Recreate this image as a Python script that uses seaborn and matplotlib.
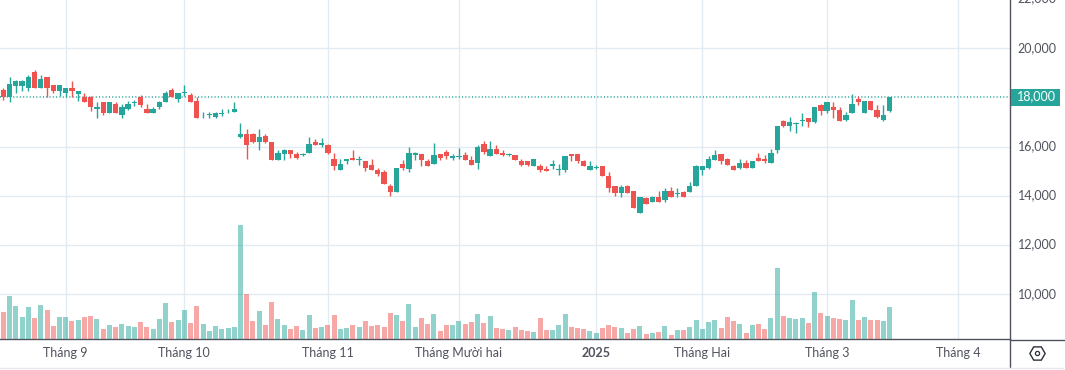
import pandas as pd
import seaborn as sns
from matplotlib import pyplot as plt
from matplotlib.lines import Line2D
from matplotlib.patches import Rectangle
from matplotlib.transforms import ScaledTranslation

# gia mo / cao / thap / dong, doc tu bieu do
opens = [18300, 18000, 18450, 18450, 18400, 19050, 18400, 18850, 18500, 18250,
         18200, 18400, 18150, 18000, 18000, 17550, 17800, 17350, 17750, 17300,
         17550, 17780, 18000, 17550, 17350, 17600, 17800, 18300, 17950, 18180,
         18100, 17850, 17150, 17300, 17200, 17330, 17430, 17400, 16400, 16500,
         16500, 16200, 16450, 16200, 15450, 15700, 15850, 15700, 15650, 15750,
         16200, 16050, 16050, 15500, 15050, 15400, 15550, 15450, 15400, 15250,
         15050, 14950, 14400, 14150, 15300, 15100, 15650, 15700, 15400, 15300,
         15700, 15800, 15550, 15570, 15650, 15450, 15350, 16100, 15600, 15900,
         15750, 15670, 15650, 15400, 15400, 15200, 15200, 15100, 15200, 15070,
         15050, 15700, 15700, 15400, 15050, 15130, 15200, 14800, 14400, 14100,
         14400, 14200, 13300, 13900, 13750, 13950, 13850, 14200, 14080, 14150,
         14150, 14400, 15050, 15150, 15450, 15700, 15500, 15200, 15150, 15350,
         15150, 15550, 15500, 15350, 15850, 17050, 16850, 16930, 17050, 17150,
         17000, 17700, 17450, 17600, 17500, 17100, 17350, 17950, 17350, 17850,
         17500, 17100, 17450]
highs = [18400, 18850, 18700, 18700, 18900, 19100, 18900, 18850, 18500, 18500,
         18400, 18650, 18250, 18200, 18050, 17800, 17800, 17800, 17800, 17750,
         17850, 17900, 18100, 17750, 17600, 17850, 18250, 18400, 18200, 18500,
         18200, 18000, 17400, 17400, 17400, 17550, 17550, 17800, 16950, 16700,
         16550, 16700, 16500, 16200, 15850, 15900, 15850, 15800, 15750, 16400,
         16300, 16350, 16100, 15750, 15500, 15500, 15850, 15600, 15400, 15500,
         15150, 15050, 14500, 15150, 15450, 16000, 15800, 15700, 15500, 16150,
         15700, 15850, 15700, 15950, 15800, 15600, 16050, 16250, 16250, 16050,
         15850, 15750, 15650, 15500, 15400, 15500, 15300, 15200, 15450, 15300,
         15600, 15700, 15700, 15450, 15400, 15250, 15200, 14950, 14400, 14450,
         14450, 14200, 13950, 13950, 14000, 14200, 14300, 14350, 14300, 14200,
         14550, 15250, 15200, 15600, 15850, 15700, 15550, 15250, 15500, 15450,
         15400, 15750, 15650, 15900, 16850, 17100, 17200, 17000, 17350, 17150,
         17600, 17750, 17800, 17800, 17600, 17400, 18150, 18050, 17850, 17850,
         17700, 17700, 18000]
lows = [17900, 17800, 18200, 18250, 18250, 18400, 18400, 18000, 18200, 18050,
        18000, 18000, 17850, 17800, 17450, 17150, 17300, 17350, 17350, 17150,
        17500, 17650, 17600, 17350, 17350, 17550, 17800, 18000, 17800, 18050,
        17800, 17150, 17150, 17150, 17150, 17250, 17350, 17400, 16350, 15500,
        16150, 15850, 16150, 15450, 15450, 15450, 15550, 15500, 15600, 15750,
        16050, 16000, 15700, 15050, 15050, 15300, 15450, 15250, 15000, 15050,
        14800, 14500, 14000, 14150, 15050, 14950, 15450, 15200, 15200, 15300,
        15450, 15500, 15450, 15500, 15450, 15250, 15100, 15700, 15600, 15700,
        15600, 15600, 15450, 15200, 15200, 15200, 14950, 15000, 15100, 14850,
        14950, 15400, 15350, 15200, 15050, 15100, 14800, 14150, 14000, 13950,
        14100, 13500, 13300, 13650, 13750, 13750, 13750, 13950, 13950, 13950,
        14150, 14400, 14850, 15100, 15450, 15300, 15250, 15050, 15100, 15150,
        15150, 15400, 15350, 15350, 15750, 16800, 16650, 16550, 16850, 16800,
        16950, 17300, 17350, 17150, 17050, 17050, 17350, 17700, 17350, 17500,
        17150, 17050, 17400]
closes = [18000, 18550, 18650, 18650, 18850, 18400, 18750, 18400, 18250, 18500,
          18400, 18250, 18250, 17800, 17600, 17600, 17350, 17800, 17350, 17600,
          17750, 17820, 17700, 17350, 17550, 17800, 18200, 18000, 18200, 18220,
          17800, 17150, 17180, 17330, 17350, 17370, 17470, 17550, 16500, 16050,
          16200, 16400, 16200, 15450, 15750, 15850, 15700, 15550, 15700, 16100,
          16050, 16150, 15750, 15200, 15300, 15500, 15450, 15500, 15150, 15050,
          14900, 14500, 14150, 15150, 15150, 15750, 15750, 15450, 15200, 15650,
          15550, 15600, 15600, 15610, 15450, 15250, 16000, 15800, 15900, 15700,
          15650, 15710, 15450, 15250, 15250, 15500, 15050, 15000, 15300, 15110,
          15600, 15600, 15400, 15200, 15200, 15170, 14800, 14300, 14100, 14350,
          14100, 13500, 13950, 13650, 13950, 13750, 14200, 13950, 14120, 13950,
          14400, 15200, 15200, 15500, 15650, 15400, 15250, 15050, 15350, 15150,
          15400, 15400, 15400, 15750, 16850, 16850, 17000, 16970, 17100, 17000,
          17600, 17450, 17800, 17500, 17050, 17300, 17750, 17800, 17850, 17500,
          17200, 17300, 18000]
volumes = [82, 130, 100, 67, 97, 64, 103, 88, 40, 67, 67, 55, 58, 67, 70, 61, 31, 43, 37, 46,
           40, 37, 52, 37, 31, 61, 109, 52, 58, 88, 49, 100, 46, 25, 40, 31, 34, 37, 343, 136,
           55, 85, 43, 112, 61, 43, 31, 40, 28, 73, 34, 37, 43, 73, 31, 34, 43, 37, 55, 40,
           43, 37, 79, 73, 55, 106, 37, 64, 46, 76, 25, 43, 43, 55, 46, 52, 76, 49, 70, 34,
           31, 28, 37, 28, 25, 22, 64, 28, 28, 43, 76, 37, 34, 31, 25, 19, 34, 43, 37, 34,
           19, 31, 40, 16, 19, 22, 40, 13, 28, 28, 37, 58, 31, 52, 58, 34, 67, 55, 46, 19,
           43, 46, 31, 64, 214, 70, 64, 61, 64, 49, 142, 79, 70, 64, 61, 58, 118, 58, 67, 58,
           58, 55, 97]

month_idx = [10, 29, 52, 73, 95, 112, 132, 153]
month_labels = ["Tháng 9", "Tháng 10", "Tháng 11", "Tháng Mười hai", "2025", "Tháng Hai", "Tháng 3", "Tháng 4"]
price_ticks = [10000, 12000, 14000, 16000, 20000]

UP = "#26a69a"
DOWN = "#ef5350"
GRID = "#e3ebf2"
AXIS = "#50535e"
TEXT = "#50535e"
W, H = 1065, 370
PLOT_W, PLOT_H = 1010, 339

sns.set_theme(style="white")
plt.rcParams['font.family'] = ['Lato', 'Noto Sans', 'DejaVu Sans']
plt.rcParams['font.size'] = 9

fig = plt.figure(figsize=(W / 100, H / 100), dpi=100)
ax = fig.add_axes([0, 1 - PLOT_H / H, PLOT_W / W, PLOT_H / H])

df = pd.DataFrame({"idx": range(len(opens)), "open": opens, "high": highs, "low": lows,
                   "close": closes, "volume": volumes})
df["dir"] = ["up" if c >= o else "down" for o, c in zip(df["open"], df["close"])]
df["color"] = df["dir"].map({"up": UP, "down": DOWN})

# nen
ax.vlines(df["idx"], df["low"], df["high"], colors=df["color"], linewidth=1, zorder=3)
ax.bar(df["idx"], (df["close"] - df["open"]).abs(), bottom=df[["open", "close"]].min(axis=1),
       width=0.85, color=df["color"], linewidth=0, zorder=4)

# gia cuoi
ax.axhline(18000, color=UP, linestyle=(0, (0.72, 1.44)), linewidth=1.1, zorder=2)

# khoi luong, truc rieng
ax_vol = ax.twinx()
sns.barplot(data=df, x="idx", y="volume", hue="dir", hue_order=["up", "down"],
            palette={"up": UP, "down": DOWN}, native_scale=True, dodge=False, width=0.8,
            saturation=1, alpha=0.5, linewidth=0, legend=False, ax=ax_vol)
ax_vol.set_ylim(0, PLOT_H * 3)
ax_vol.set_yticks([])
ax_vol.set_ylabel("")
for s in ax_vol.spines.values():
    s.set_visible(False)

ax.set_xlim(-0.534, 161.3)
ax.set_ylim(8178, 21964)
ax.set_axisbelow(True)
ax.grid(True, color=GRID, linewidth=1)

ax.set_xticks(month_idx)
ax.set_xticklabels(month_labels)
ax.get_xticklabels()[4].set_fontweight("bold")
ax.yaxis.tick_right()
ax.set_yticks(price_ticks)
ax.set_yticklabels([f"{v:,}" for v in price_ticks])
ax.tick_params(axis="x", length=0, pad=6, labelsize=9, labelcolor=TEXT)
ax.tick_params(axis="y", length=0, pad=5.5, labelsize=9, labelcolor=TEXT)

# nhan truc y nam cao hon duong luoi mot chut
up_shift = ScaledTranslation(0, 1.5 / 100, fig.dpi_scale_trans)
for lab in ax.get_yticklabels():
    lab.set_transform(lab.get_transform() + up_shift)

for side in ["top", "left"]:
    ax.spines[side].set_visible(False)
for side in ["right", "bottom"]:
    ax.spines[side].set_color(AXIS)
    ax.spines[side].set_linewidth(1)

# nhan 22,000 bi cat o mep tren
ax.annotate("22,000", xy=(1, 22000), xycoords=ax.get_yaxis_transform(), xytext=(5.5, 1),
            textcoords="offset points", va="center", ha="left", fontsize=9, color=TEXT,
            annotation_clip=False)


def fx(px):
    return px / W


def fy(px):
    return 1 - px / H


# nhan gia cuoi
fig.add_artist(Rectangle((fx(1011), fy(106)), 49 / W, 17 / H, transform=fig.transFigure,
                         facecolor=UP, edgecolor="none"))
fig.text(fx(1036.5), fy(96.5), "18,000", color="white", fontsize=9,
         ha="center", va="center")

# cac duong bao quanh thang thoi gian
fig.add_artist(Line2D([fx(1010), fx(1065)], [fy(339.5), fy(339.5)], color=AXIS, linewidth=1))
fig.add_artist(Line2D([fx(1010), fx(1010)], [fy(339), fy(367)], color=AXIS, linewidth=1))
fig.add_artist(Line2D([0, fx(1063)], [fy(367.5), fy(367.5)], color="#e6e8ee", linewidth=1))

# icon cai dat
fig.add_artist(Line2D([fx(1037)], [fy(352.5)], marker="H", markersize=11, markerfacecolor="white",
                      markeredgecolor="#2a2e39", markeredgewidth=1, linestyle="none"))
fig.add_artist(Line2D([fx(1037)], [fy(352.5)], marker="o", markersize=3, markerfacecolor="white",
                      markeredgecolor="#2a2e39", markeredgewidth=0.9, linestyle="none"))

fig.savefig("out.png", dpi=100)
